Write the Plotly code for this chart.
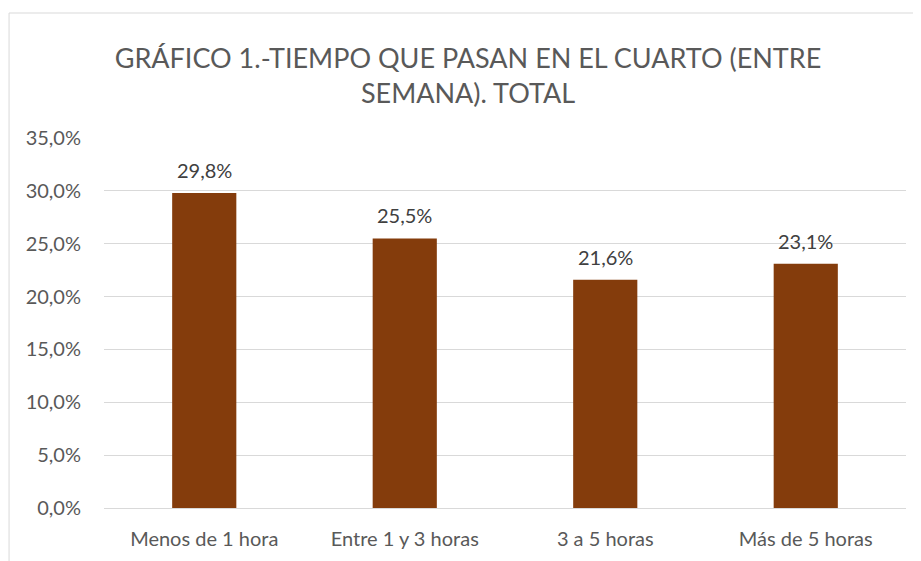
import plotly.graph_objects as go

categories = ["Menos de 1 hora", "Entre 1 y 3 horas", "3 a 5 horas", "Más de 5 horas"]
values = [0.298, 0.255, 0.216, 0.231]
labels = ["29,8%", "25,5%", "21,6%", "23,1%"]
title_text = "GRÁFICO 1.-TIEMPO QUE PASAN EN EL CUARTO (ENTRE<br>SEMANA). TOTAL"

FONT = "Lato, Carlito, Calibri, sans-serif"
GREY = "#595959"

fig = go.Figure()
fig.add_trace(go.Bar(x=categories, y=values, marker=dict(color="#843C0C", line=dict(width=0)),
                     width=0.32, hoverinfo="skip"))

for c, v, t in zip(categories, values, labels):
    fig.add_annotation(x=c, y=v, text=t, showarrow=False, yanchor="bottom", yshift=9,
                       font=dict(family=FONT, size=20, color="#404040"))

OFF = 8  # page body margin
W, H = 921 - OFF, 561 - OFF
L = 104 - OFF
T = 138 - OFF
B = H - (508 - OFF)
R = W - (906.5 - OFF)
pw = W - L - R
ph = H - T - B
fig.add_shape(type="rect", xref="paper", yref="paper",
              x0=((9 - OFF) - L) / pw, x1=(W + 20 - L) / pw,
              y0=-80 / ph, y1=((H - B) - (13 - OFF)) / ph,
              line=dict(color="#D9D9D9", width=1), fillcolor="rgba(0,0,0,0)", layer="below")

fig.update_layout(
    width=W, height=H,
    margin=dict(l=L, r=R, t=T, b=B, pad=0),
    paper_bgcolor="white", plot_bgcolor="white",
    separators=",.",
    showlegend=False,
    title=dict(text=title_text, x=(468 - OFF) / W, xref="container", xanchor="center",
               y=1 - 60 / H, yref="container", yanchor="top",
               font=dict(family=FONT, size=27, color=GREY)),
    font=dict(family=FONT, color=GREY),
    xaxis=dict(showgrid=False, showline=False, tickfont=dict(family=FONT, size=20, color=GREY),
               ticklabelstandoff=17, fixedrange=True),
    yaxis=dict(range=[0, 0.35], dtick=0.05, tickformat=".1%", showgrid=True,
               gridcolor="#D9D9D9", gridwidth=1, zeroline=True, zerolinecolor="#D9D9D9",
               zerolinewidth=1, showline=False,
               tickfont=dict(family=FONT, size=20, color=GREY), ticklabelstandoff=22,
               fixedrange=True),
)

fig.write_html("out.html")
